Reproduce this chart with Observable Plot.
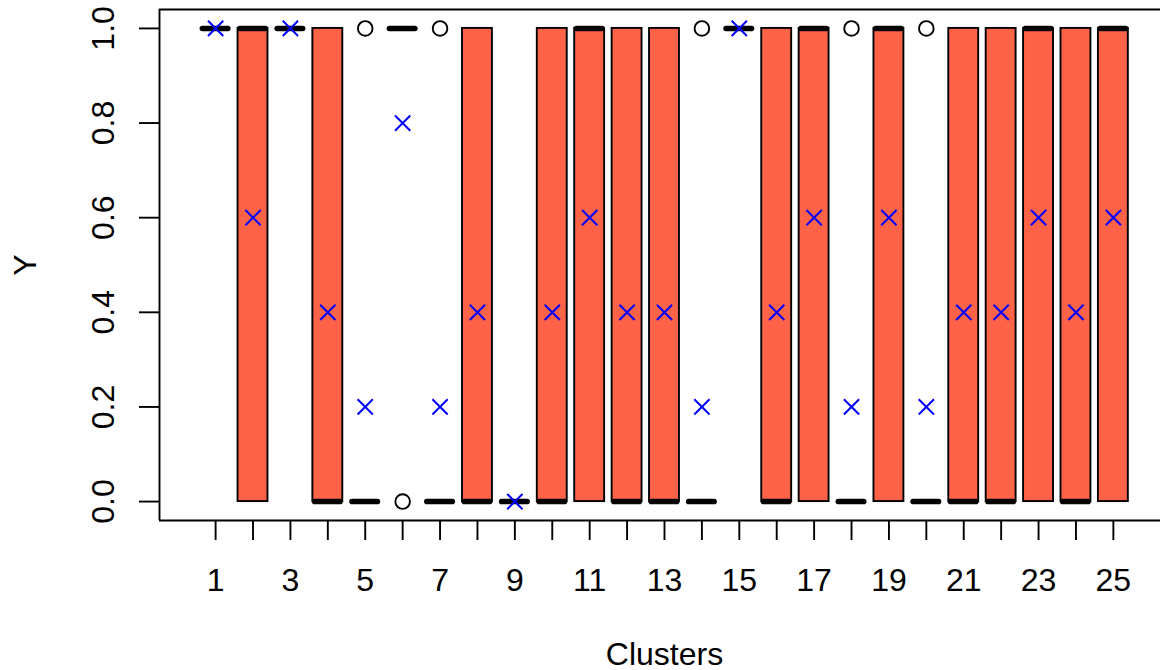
<!DOCTYPE html>
<html>
<head>
<meta charset="utf-8">
<script src="https://cdn.jsdelivr.net/npm/d3@7"></script>
<script src="https://cdn.jsdelivr.net/npm/@observablehq/plot@0.6"></script>
<style>
  html, body { margin: 0; padding: 0; background: white; }
  svg { display: block; }
</style>
</head>
<body>
<div id="chart"></div>
<script>
// ---- data ----
const clusters = d3.range(1, 26);
const means    = [1, 0.6, 1, 0.4, 0.2, 0.8, 0.2, 0.4, 0, 0.4, 0.6, 0.4, 0.4, 0.2, 1, 0.4, 0.6, 0.2, 0.6, 0.2, 0.4, 0.4, 0.6, 0.4, 0.6];
const lowerQ   = [1, 0, 1, 0, 0, 1, 0, 0, 0, 0, 0, 0, 0, 0, 1, 0, 0, 0, 0, 0, 0, 0, 0, 0, 0];
const upperQ   = [1, 1, 1, 1, 0, 1, 0, 1, 0, 1, 1, 1, 1, 0, 1, 1, 1, 0, 1, 0, 1, 1, 1, 1, 1];
const medians  = [1, 1, 1, 0, 0, 1, 0, 0, 0, 0, 1, 0, 0, 0, 1, 0, 1, 0, 1, 0, 0, 0, 1, 0, 1];
const outlierClusters = [5, 6, 7, 14, 18, 20];
const outlierValues   = [1, 0, 1, 1, 1, 1];
const yTicks = [0, 0.2, 0.4, 0.6, 0.8, 1.0];
const xLabel = "Clusters";
const yLabel = "Y";

// ---- tables ----
const boxes = clusters.map((c, i) => ({cluster: c, mean: means[i], q1: lowerQ[i], q3: upperQ[i], median: medians[i]}));
const outliers = outlierClusters.map((c, i) => ({cluster: c, value: outlierValues[i]}));

const xDomain = [-0.5, 26.26];
const yDomain = [-0.04, 1.04];
const halfBox = 0.4;
const font = "'Liberation Sans', Arial, Helvetica, sans-serif";
const fs = 32;

const chart = Plot.plot({
  width: 1160,
  height: 670,
  marginLeft: 159,
  marginRight: 0,
  marginTop: 9,
  marginBottom: 150,
  style: {fontFamily: font, fontSize: fs + "px", background: "white", color: "black"},
  x: {domain: xDomain},
  y: {domain: yDomain},
  marks: [
    // boxes
    Plot.rect(boxes, {
      x1: d => d.cluster - halfBox, x2: d => d.cluster + halfBox,
      y1: "q1", y2: "q3",
      fill: "#FF6347", stroke: "black", strokeWidth: 1.9
    }),
    // medians
    Plot.ruleY(boxes, {
      y: "median",
      x1: d => d.cluster - 0.34, x2: d => d.cluster + 0.34,
      stroke: "black", strokeWidth: 5.6, strokeLinecap: "round"
    }),
    // outliers
    Plot.dot(outliers, {x: "cluster", y: "value", r: 7.3, stroke: "black", strokeWidth: 1.9, fill: "none"}),
    // means
    Plot.dot(boxes, {x: "cluster", y: "mean", symbol: "times", r: 7, stroke: "#0000FF", strokeWidth: 2}),
    // frame (right edge falls outside the picture)
    Plot.ruleY(yDomain, {stroke: "black", strokeWidth: 1.9}),
    Plot.ruleX([xDomain[0]], {stroke: "black", strokeWidth: 1.9}),
    // x axis
    Plot.axisX({
      ticks: clusters, tickSize: 20, tickPadding: 28, strokeWidth: 1.9,
      tickFormat: d => (d % 2 === 1 ? String(d) : ""),
      fontSize: fs, label: null
    }),
    // y axis ticks
    Plot.axisY({ticks: yTicks, tickSize: 20, strokeWidth: 1.9, tickFormat: () => "", label: null}),
    // y tick labels (rotated)
    Plot.text(yTicks, {
      frameAnchor: "left", y: d => d, text: d => d3.format(".1f")(d),
      rotate: -90, dx: -46, textAnchor: "middle", lineAnchor: "bottom",
      fontSize: fs, fill: "black"
    }),
    // axis titles
    Plot.text([yLabel], {
      frameAnchor: "left", y: () => 0.5, text: d => d,
      rotate: -90, dx: -124, textAnchor: "middle", lineAnchor: "bottom",
      fontSize: fs, fill: "black"
    }),
    Plot.text([xLabel], {
      frameAnchor: "bottom", x: () => 13, text: d => d,
      dy: 144, textAnchor: "middle", lineAnchor: "bottom",
      fontSize: fs, fill: "black"
    })
  ]
});
document.getElementById("chart").appendChild(chart);
</script>
</body>
</html>
